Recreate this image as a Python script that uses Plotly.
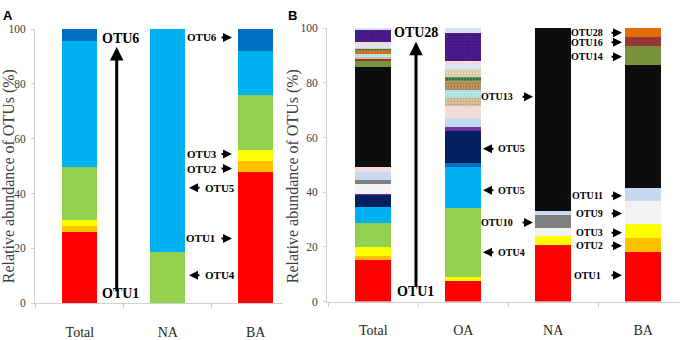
import plotly.graph_objects as go

W, H = 680, 340

# ---------------- Panel A data ----------------
A_cats = ["Total", "NA", "BA"]
A_otu1 = [26.0, 0.0, 47.9]
A_otu2 = [2.0, 0.0, 3.9]
A_otu3 = [2.2, 0.0, 4.1]
A_otu4 = [19.6, 18.8, 20.1]
A_otu5 = [45.7, 81.2, 15.9]
A_otu6 = [4.5, 0.0, 8.1]
A_names = ["OTU1", "OTU2", "OTU3", "OTU4", "OTU5", "OTU6"]
A_colors = ["#FF0000", "#FFC000", "#FFFF00", "#92D050", "#00B0F0", "#0070C0"]

# ---------------- Panel B data ----------------
B_cats = ["Total", "OA", "NA", "BA"]
B_otu1 = [15.3, 7.4, 20.6, 18.2]
B_otu2 = [1.5, 0.0, 0.0, 5.1]
B_otu3 = [3.2, 1.4, 3.2, 4.9]
B_otu4 = [8.9, 25.5, 0.0, 0.0]
B_otu5 = [5.5, 15.0, 0.0, 0.0]
B_otu6 = [0.0, 1.2, 0.0, 0.0]
B_otu7 = [4.7, 11.8, 0.0, 0.0]
B_otu8 = [0.4, 1.7, 0.0, 0.0]
B_otu9 = [3.5, 0.0, 3.0, 8.5]
B_otu10 = [1.5, 0.0, 4.9, 0.0]
B_otu11 = [2.9, 3.0, 1.4, 4.9]
B_otu12 = [1.9, 4.7, 0.0, 0.0]
B_otu13 = [36.5, 0.0, 66.9, 45.0]
B_otu14 = [2.1, 0.0, 0.0, 6.8]
B_otu16 = [0.9, 0.0, 0.0, 3.3]
B_otu17 = [0.5, 2.9, 0.0, 0.0]
B_otu18 = [1.1, 2.9, 0.0, 0.0]
B_otu28 = [1.3, 0.0, 0.0, 3.3]
B_otu19 = [0.0, 3.0, 0.0, 0.0]
B_otu20 = [0.5, 1.8, 0.0, 0.0]
B_otu21 = [0.8, 2.9, 0.0, 0.0]
B_otu22 = [0.7, 1.5, 0.0, 0.0]
B_otu23 = [1.3, 1.4, 0.0, 0.0]
B_otu24 = [4.3, 10.2, 0.0, 0.0]
B_otu25 = [0.7, 1.7, 0.0, 0.0]
B_names = ["OTU1", "OTU2", "OTU3", "OTU4", "OTU5", "OTU6", "OTU7", "OTU8",
           "OTU9", "OTU10", "OTU11", "OTU12", "OTU13", "OTU14", "OTU16",
           "OTU17", "OTU18", "OTU28", "OTU19", "OTU20", "OTU21", "OTU22",
           "OTU23", "OTU24", "OTU25"]
B_colors = ["#FF0000", "#FFC000", "#FFFF00", "#92D050", "#00B0F0", "#0070C0",
            "#002060", "#7030A0", "#F2F2F2", "#808080", "#C6D9F1", "#F2DCDB",
            "#0D0D0D", "#77933C", "#953735", "#D9C8A2", "#A9DDE8", "#E46C0A",
            "#C09A62", "#2F6B3A", "#E3D6B4", "#DCE6F2", "#F2DCDB", "#4E1C90",
            "#CFE0F5"]
# texture overlays (None = solid)
B_textures = [None] * 15 + ["#A08050", "#E8F6FA", None, "#6B4A20", "#DDEBD8",
                             "#B8A27A", None, None, "#2A0A5E", "#F5F0FA"]

A_values = [A_otu1, A_otu2, A_otu3, A_otu4, A_otu5, A_otu6]
B_values = [B_otu1, B_otu2, B_otu3, B_otu4, B_otu5, B_otu6, B_otu7, B_otu8,
            B_otu9, B_otu10, B_otu11, B_otu12, B_otu13, B_otu14, B_otu16,
            B_otu17, B_otu18, B_otu28, B_otu19, B_otu20, B_otu21, B_otu22,
            B_otu23, B_otu24, B_otu25]

fig = go.Figure()
for name, vals, col in zip(A_names, A_values, A_colors):
    fig.add_trace(go.Bar(x=A_cats, y=vals, name=name, marker_color=col,
                         marker_line_width=0, xaxis="x", yaxis="y",
                         showlegend=False))
for name, vals, col, tex in zip(B_names, B_values, B_colors, B_textures):
    marker = dict(color=col, line=dict(width=0))
    if tex:
        marker["pattern"] = dict(shape=".", fillmode="overlay", fgcolor=tex,
                                 size=3, solidity=0.35)
    fig.add_trace(go.Bar(x=B_cats, y=vals, name=name, marker=marker,
                         xaxis="x2", yaxis="y2", showlegend=False))


def px(x):
    return x / W


def py(y):
    return 1 - y / H


SERIF = "Liberation Serif"
axis_line = "#D0D0D0"

xcommon = dict(type="category", showline=True, linecolor=axis_line, linewidth=1,
               ticks="outside", tickson="boundaries", ticklen=4,
               tickcolor=axis_line, showgrid=False, zeroline=False,
               tickfont=dict(family=SERIF, size=14, color="#262626"),
               ticklabelstandoff=16, fixedrange=True)
ycommon = dict(range=[0, 100], tickvals=[0, 20, 40, 60, 80, 100],
               showline=True, linecolor=axis_line, linewidth=1,
               showgrid=False, zeroline=False, ticks="outside", ticklen=3,
               tickcolor=axis_line,
               tickfont=dict(family=SERIF, size=11.5, color="#404040"),
               ticklabelstandoff=3, fixedrange=True)

fig.update_layout(
    width=W, height=H, margin=dict(l=0, r=0, t=0, b=0),
    paper_bgcolor="white", plot_bgcolor="white",
    barmode="stack", bargap=0.6,
    xaxis=dict(domain=[px(35), px(283)], range=[-0.51, 2.31], anchor="y", **xcommon),
    yaxis=dict(domain=[py(309), py(24)], anchor="x", **ycommon),
    xaxis2=dict(domain=[px(327), 1.0], range=[-0.515, 3.41], anchor="y2", **xcommon),
    yaxis2=dict(domain=[py(307.3), py(23)], anchor="x2", **ycommon),
)

ann = []
# panel letters
ann.append(dict(x=px(8), y=py(9.5), text="<b>A</b>", showarrow=False,
                font=dict(family="Liberation Sans", size=13, color="black")))
ann.append(dict(x=px(292), y=py(9.5), text="<b>B</b>", showarrow=False,
                font=dict(family="Liberation Sans", size=13, color="black")))
# y titles
for xx in (9, 293):
    ann.append(dict(x=px(xx), y=py(177), text="Relative abundance of OTUs (%)",
                    textangle=-90, showarrow=False,
                    font=dict(family=SERIF, size=16, color="#404040")))

big = dict(family=SERIF, size=14, color="black")
small_a = dict(family=SERIF, size=11, color="black")
small_b = dict(family=SERIF, size=10, color="black")

# big labels and long arrows
ann.append(dict(x=px(120), y=py(33.8), text="<b>OTU6</b>", showarrow=False, font=big))
ann.append(dict(x=px(120), y=py(299), text="<b>OTU1</b>", showarrow=False, font=big))
ann.append(dict(x=px(116.7), y=py(42.7), ax=0, ay=245.6, text="", showarrow=True,
                arrowhead=2, arrowsize=0.9, arrowwidth=3, arrowcolor="black"))
ann.append(dict(x=px(415.8), y=py(27.2), text="<b>OTU28</b>", showarrow=False, font=big))
ann.append(dict(x=px(415), y=py(297), text="<b>OTU1</b>", showarrow=False, font=big))
ann.append(dict(x=px(416), y=py(37.3), ax=0, ay=246, text="", showarrow=True,
                arrowhead=2, arrowsize=0.9, arrowwidth=3, arrowcolor="black"))


def right_label(text, text_right, arrow_tip, y, font):
    ann.append(dict(x=px(text_right), y=py(y), text="<b>%s</b>" % text,
                    xanchor="right", showarrow=False, font=font))
    ann.append(dict(x=px(arrow_tip), y=py(y), ax=-12, ay=0, text="",
                    showarrow=True, arrowhead=2, arrowsize=0.9,
                    arrowwidth=2, arrowcolor="black"))


def left_label(text, arrow_tip, text_left, y, font):
    ann.append(dict(x=px(text_left), y=py(y), text="<b>%s</b>" % text,
                    xanchor="left", showarrow=False, font=font))
    ann.append(dict(x=px(arrow_tip), y=py(y), ax=12, ay=0, text="",
                    showarrow=True, arrowhead=2, arrowsize=0.9,
                    arrowwidth=2, arrowcolor="black"))


# panel A small labels
right_label("OTU6", 218.5, 232, 32.7, small_a)
right_label("OTU3", 218.5, 232, 154, small_a)
right_label("OTU2", 218.5, 232, 169, small_a)
left_label("OTU5", 189, 203, 189, small_a)
right_label("OTU1", 217, 232, 241.7, small_a)
left_label("OTU4", 189, 203, 280, small_a)

# panel B small labels
right_label("OTU13", 515, 533, 94.3, small_b)
left_label("OTU5", 483, 496, 148.3, small_b)
left_label("OTU5", 483, 496, 191.7, small_b)
right_label("OTU10", 515, 533, 225, small_b)
left_label("OTU4", 483, 496, 256, small_b)
right_label("OTU28", 605, 622, 27.7, small_b)
right_label("OTU16", 605, 622, 37.7, small_b)
right_label("OTU14", 605, 622, 52.7, small_b)
right_label("OTU11", 605, 622, 197.3, small_b)
right_label("OTU9", 605, 622, 215.7, small_b)
right_label("OTU3", 605, 622, 235.7, small_b)
right_label("OTU2", 605, 622, 249.3, small_b)
right_label("OTU1", 603, 622, 280, small_b)

for a in ann:
    a.setdefault("xref", "paper")
    a.setdefault("yref", "paper")
    a.setdefault("xanchor", "center")
    a.setdefault("yanchor", "middle")
fig.update_layout(annotations=ann)

fig.write_html("out.html", config={"displayModeBar": False},
               post_script="document.body.style.margin='0';")
